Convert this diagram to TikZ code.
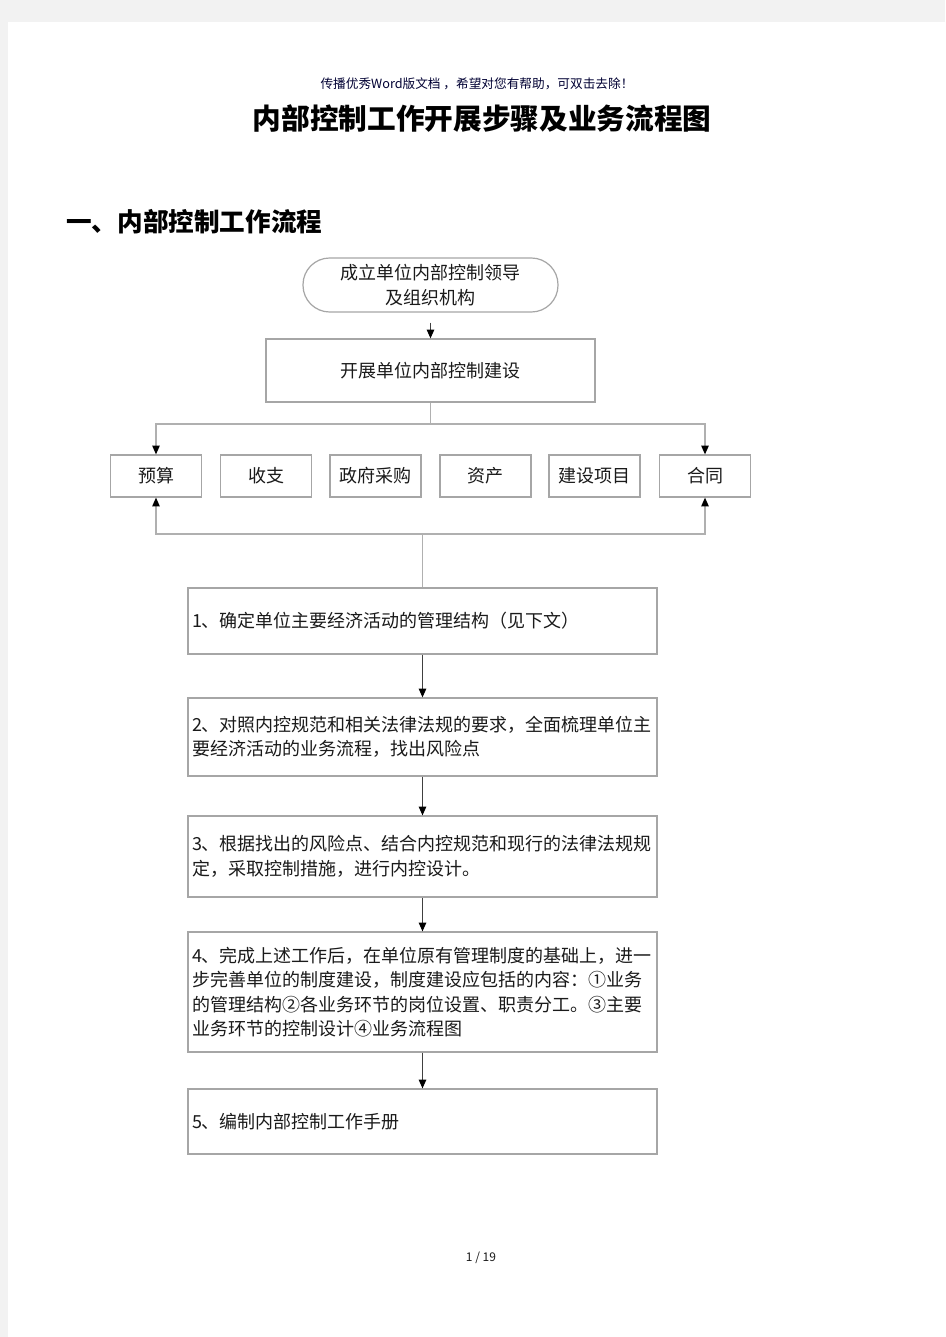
\documentclass[tikz,border=0pt]{standalone}
\usepackage{fontspec}
\setmainfont{Liberation Serif}
\newfontfamily\cjk{Noto Sans CJK SC}
\usetikzlibrary{arrows.meta}
\definecolor{pagegray}{HTML}{F2F2F2}
\definecolor{boxline}{HTML}{A6A6A6}
\definecolor{busline}{HTML}{B0B0B0}
\definecolor{darkline}{HTML}{404040}
\definecolor{navy}{HTML}{000033}
\definecolor{txt}{HTML}{1A1A1A}
\tikzset{
  boxbase/.style={draw=boxline, line width=0.9pt, inner sep=0pt, text=txt,
    font=\cjk\fontsize{13.5pt}{18.4pt}\selectfont},
  leadbox/.style={boxbase, rounded corners=20pt, minimum width=191.25pt, minimum height=40.5pt, align=center},
  buildbox/.style={boxbase, minimum width=246.75pt, minimum height=47.25pt},
  smallbox/.style={boxbase, minimum width=68.25pt, minimum height=31.5pt},
  stepbox/.style={boxbase, minimum width=351.75pt, text width=345.75pt, inner xsep=3pt, align=left},
  tipk/.style={-{Triangle[length=6.5pt,width=5.5pt,black]}},
  tipkrev/.style={{Triangle[length=6.5pt,width=5.5pt,black]}-},
  busln/.style={draw=busline, line width=0.9pt},
  mainln/.style={draw=darkline, line width=1pt},
}
\begin{document}
\begin{tikzpicture}[x=0.75pt,y=-0.75pt]
\fill[pagegray] (0,0) rectangle (945,1337);
\fill[white] (8,22) rectangle (945,1337);
\useasboundingbox (0,0) rectangle (945,1337);

\node[text=navy, font=\cjk\fontsize{9.5pt}{11pt}\selectfont] (hdr) at (477,84) {传播优秀Word版文档 ，希望对您有帮助，可双击去除！};
\node[font=\cjk\bfseries\fontsize{21.5pt}{24pt}\selectfont] (title) at (482,119) {内部控制工作开展步骤及业务流程图};
\node[anchor=west, inner sep=0pt, font=\cjk\bfseries\fontsize{19.2pt}{22pt}\selectfont] (head) at (66,222) {一、内部控制工作流程};

\node[leadbox] (lead) at (430.5,285) {成立单位内部控制领导\\及组织机构};
\node[buildbox] (build) at (430.5,370.5) {开展单位内部控制建设};

\node[smallbox] (ys) at (156,476) {预算};
\node[smallbox] (sz) at (266,476) {收支};
\node[smallbox] (zf) at (375.5,476) {政府采购};
\node[smallbox] (zc) at (485.5,476) {资产};
\node[smallbox] (js) at (594.5,476) {建设项目};
\node[smallbox] (ht) at (705,476) {合同};

\node[stepbox, minimum height=49.5pt] (s1) at (422.5,621) {1、确定单位主要经济活动的管理结构（见下文）};
\node[stepbox, minimum height=58.5pt] (s2) at (422.5,737) {2、对照内控规范和相关法律法规的要求，全面梳理单位主\\要经济活动的业务流程，找出风险点};
\node[stepbox, minimum height=60.75pt] (s3) at (422.5,856.5) {3、根据找出的风险点、结合内控规范和现行的法律法规规\\定，采取控制措施，进行内控设计。};
\node[stepbox, minimum height=90pt] (s4) at (422.5,992) {4、完成上述工作后，在单位原有管理制度的基础上，进一\\步完善单位的制度建设，制度建设应包括的内容：①业务\\的管理结构②各业务环节的岗位设置、职责分工。③主要\\业务环节的控制设计④业务流程图};
\node[stepbox, minimum height=48.75pt] (s5) at (422.5,1121.5) {5、编制内部控制工作手册};

\node[font=\cjk\fontsize{9pt}{11pt}\selectfont, text=txt] (pg) at (481,1258) {1 / 19};

% connectors
\draw[mainln, tipk, shorten <=7.5pt] (lead.south) -- (build.north);

\coordinate (tb) at (430.5,424);
\draw[busln] (build.south) -- (tb);
\draw[busln, tipkrev] (ys.north) |- (tb);
\draw[busln, tipk] (tb) -| (ht.north);

\coordinate (bb) at (422.5,534);
\draw[busln] (s1.north) -- (bb);
\draw[busln, tipk] (bb) -| (ys.south);
\draw[busln, tipk] (bb) -| (ht.south);

\draw[mainln, tipk] (s1.south) -- (s2.north);
\draw[mainln, tipk] (s2.south) -- (s3.north);
\draw[mainln, tipk] (s3.south) -- (s4.north);
\draw[mainln, tipk] (s4.south) -- (s5.north);
\end{tikzpicture}
\end{document}
